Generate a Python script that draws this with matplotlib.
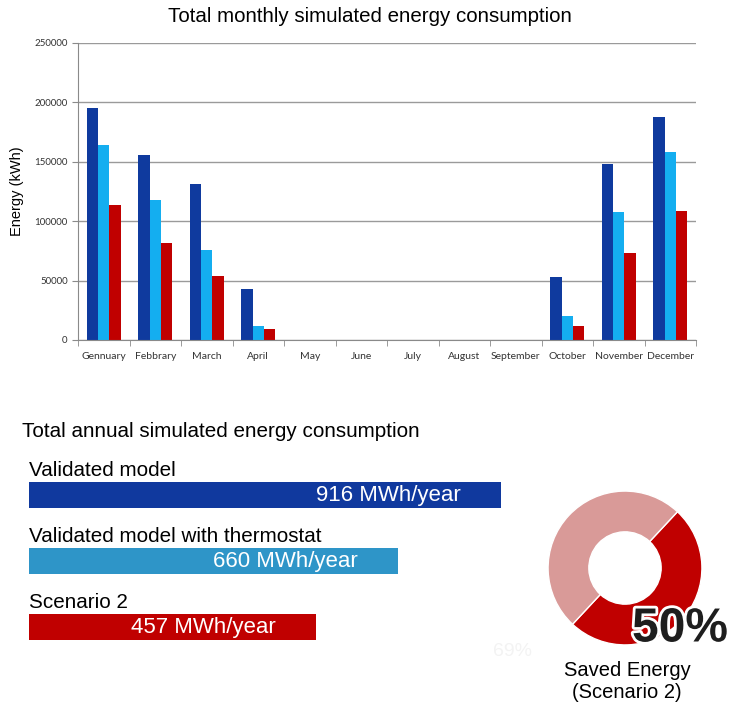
import matplotlib.pyplot as plt
import matplotlib.patheffects as pe
import numpy as np

plt.rcParams['font.family'] = ['Liberation Sans', 'DejaVu Sans']

# monthly simulated energy (kWh)
months = ['Gennuary', 'Febbrary', 'March', 'April', 'May', 'June', 'July',
          'August', 'September', 'October', 'November', 'December']
validated = [195000, 156000, 131000, 43000, 0, 0, 0, 0, 0, 53000, 148000, 188000]
thermostat = [164000, 118000, 76000, 12000, 0, 0, 0, 0, 0, 20000, 108000, 158000]
scenario2 = [114000, 82000, 54000, 9000, 0, 0, 0, 0, 0, 12000, 73500, 109000]

# annual totals (MWh/year)
annual_labels = ['Validated model', 'Validated model with thermostat', 'Scenario 2']
annual_values = [916, 660, 457]

# saved energy share
saved_pct = 50

W, H = 731, 709
fig = plt.figure(figsize=(W / 100, H / 100), dpi=100)


def box(x0, y0, x1, y1):
    # pixel box (top-left origin) -> figure fraction rect
    return [x0 / W, 1 - y1 / H, (x1 - x0) / W, (y1 - y0) / H]


# ---- monthly chart ----
ax = fig.add_axes(box(78, 43, 696, 340))
x = np.arange(len(months))
bw = 0.22
ax.bar(x - bw, validated, bw, color='#0f3a9e')
ax.bar(x, thermostat, bw, color='#14aef0')
ax.bar(x + bw, scenario2, bw, color='#c00000')
ax.set_xlim(-0.5, len(months) - 0.5)
ax.set_ylim(0, 250000)
ax.set_yticks(np.arange(0, 250001, 50000))
ax.yaxis.grid(True, color='#9a9a9a', linewidth=1)
ax.set_axisbelow(True)
for s in ['top', 'right']:
    ax.spines[s].set_visible(False)
for s in ['left', 'bottom']:
    ax.spines[s].set_color('#8a8a8a')
ax.set_xticks(x)
ax.set_xticklabels(months, fontfamily='Lato', fontsize=7.5, color='#333333')
ax.set_xticks(np.arange(-0.5, len(months)), minor=True)
ax.tick_params(axis='x', which='major', length=0, pad=9)
ax.tick_params(axis='x', which='minor', length=4, color='#8a8a8a')
ax.tick_params(axis='y', length=4, color='#8a8a8a', labelsize=7, labelcolor='#333333')
for t in ax.get_yticklabels():
    t.set_fontfamily('Lato')
ax.set_ylabel('Energy (kWh)', fontsize=10.5, labelpad=7)
fig.text(370 / W, 1 - 17 / H, 'Total monthly simulated energy consumption',
         ha='center', va='center', fontsize=14.8)

# ---- annual bars ----
base = -254
bx = fig.add_axes(box(29, 462, 529, 660))
pos = np.arange(len(annual_values))
bar_colors = ['#10399e', '#2e95c8', '#c00000']
bx.barh(pos, np.array(annual_values) - base, left=base, height=0.38, color=bar_colors)
bx.set_xlim(base, base + 500 / 0.4035)
bx.set_ylim(2.5, -0.5)
bx.axis('off')
for i, (lab, v) in enumerate(zip(annual_labels, annual_values)):
    bx.text(base, i - 0.37, lab, ha='left', va='center', fontsize=14.9)
    bx.annotate(f'{v} MWh/year', (v, i), xytext=(-29, 0), textcoords='offset points',
                ha='right', va='center', fontsize=16, color='white')
fig.text(22 / W, 1 - 431 / H, 'Total annual simulated energy consumption',
         ha='left', va='center', fontsize=14.9)

# ---- donut ----
dx = fig.add_axes(box(545, 488, 705, 648))
dx.pie([saved_pct, 100 - saved_pct], colors=['#c00000', '#d99a98'], startangle=47,
       counterclock=False, radius=1, wedgeprops=dict(width=0.53, edgecolor='white', linewidth=1))
dx.set_xlim(-1.04, 1.04)
dx.set_ylim(-1.04, 1.04)
dx.set_aspect('equal')

fig.text(512 / W, 1 - 652 / H, '69%', ha='center', va='center', fontsize=14, color='#f3f3f3')
fig.text(680 / W, 1 - 629 / H, f'{saved_pct}%', ha='center', va='center', fontsize=34.5,
         fontweight='bold', color='#1e1e1e',
         path_effects=[pe.withStroke(linewidth=4, foreground='white')])
fig.text(627 / W, 1 - 670 / H, 'Saved Energy', ha='center', va='center', fontsize=14.5)
fig.text(627 / W, 1 - 693 / H, '(Scenario 2)', ha='center', va='center', fontsize=14.5)

fig.savefig('out.png', dpi=100)
